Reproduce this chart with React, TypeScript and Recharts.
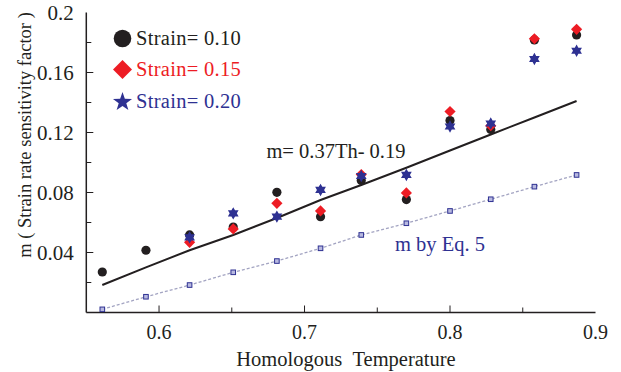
import React from 'react';
import {
  ComposedChart,
  Line,
  Scatter,
  XAxis,
  YAxis,
  Legend,
  ReferenceDot,
} from 'recharts';

// Homologous temperature (x)
const temps = [0.561, 0.591, 0.621, 0.651, 0.681, 0.711, 0.739, 0.77, 0.8, 0.828, 0.858, 0.887];
// Strain rate sensitivity factor m per strain
const strain10 = [0.027, 0.0415, 0.0517, 0.057, 0.0801, 0.0639, 0.088, 0.0753, 0.128, 0.122, 0.1817, 0.185];
const strain15 = [null, null, 0.0468, 0.0557, 0.0728, 0.0677, 0.092, 0.0797, 0.134, 0.1245, 0.1825, 0.1888];
const strain20 = [null, null, 0.0501, 0.0661, 0.0639, 0.0817, 0.091, 0.0917, 0.124, 0.126, 0.169, 0.1745];
// Fitted line m = 0.37Th - 0.19
const fitLine = [0.0183, 0.0301, 0.0415, 0.0517, 0.063, 0.075, 0.085, 0.0965, 0.108, 0.1187, 0.13, 0.141];
// m by Eq. 5
const eq5Line = [0.0021, 0.0105, 0.0183, 0.0268, 0.0343, 0.0428, 0.0517, 0.0595, 0.0677, 0.0755, 0.0839, 0.0917];

const xMajorTicks = [0.6, 0.7, 0.8, 0.9];
const xMinorTicks = [0.65, 0.75, 0.85];
const xTickLabels = ['0.6', '0.7', '0.8', '0.9'];
const yMajorTicks = [0.04, 0.08, 0.12, 0.16, 0.2];
const yMinorTicks = [0.02, 0.06, 0.1, 0.14, 0.18];
const yTickLabels = ['0.04', '0.08', '0.12', '0.16', '0.2'];

const seriesNames = ['Strain= 0.10', 'Strain= 0.15', 'Strain= 0.20'];
const fitLabel = 'm= 0.37Th- 0.19';
const eq5Label = 'm by Eq. 5';
const xAxisTitle = 'Homologous\u00a0\u00a0Temperature';
const yAxisTitle = 'm ( Strain rate sensitivity factor )';

const BLACK = '#231f20';
const RED = '#ed1c24';
const BLUE = '#2e3192';
const FONT = "'Liberation Serif', 'Times New Roman', serif";

const rows = temps.map((t, i) => ({
  t,
  s10: strain10[i],
  s15: strain15[i],
  s20: strain20[i],
  fit: fitLine[i],
  eq5: eq5Line[i],
}));

const s10Data = rows.filter((r) => r.s10 != null);
const s15Data = rows.filter((r) => r.s15 != null);
const s20Data = rows.filter((r) => r.s20 != null);

const near = (a: number, b: number) => Math.abs(a - b) < 1e-6;

const XTick = (props: any) => {
  const { x, y, payload } = props;
  const v = payload.value;
  const majorIdx = xMajorTicks.findIndex((m) => near(m, v));
  const isMajor = majorIdx >= 0;
  const showLine = !near(v, 0.9);
  return (
    <g>
      {showLine && (
        <line x1={x} x2={x} y1={y} y2={y - (isMajor ? 7 : 5)} stroke={BLACK} strokeWidth={1} />
      )}
      {isMajor && (
        <text x={x} y={y + 26} textAnchor="middle" fill={BLACK} fontSize={20} fontFamily={FONT}>
          {xTickLabels[majorIdx]}
        </text>
      )}
    </g>
  );
};

const YTick = (props: any) => {
  const { x, y, payload } = props;
  const v = payload.value;
  const majorIdx = yMajorTicks.findIndex((m) => near(m, v));
  const isMajor = majorIdx >= 0;
  const showLine = !near(v, 0.2);
  return (
    <g>
      {showLine && (
        <line x1={x} x2={x + (isMajor ? 7 : 5)} y1={y} y2={y} stroke={BLACK} strokeWidth={1} />
      )}
      {isMajor && (
        <text x={x - 12.5} y={y + 7.5} textAnchor="end" fill={BLACK} fontSize={21} fontFamily={FONT}>
          {yTickLabels[majorIdx]}
        </text>
      )}
    </g>
  );
};

const circleShape = (props: any) => {
  const { cx, cy } = props;
  return <circle cx={cx} cy={cy} r={4.6} fill={BLACK} />;
};

const diamondShape = (props: any) => {
  const { cx, cy } = props;
  const r = 5.6;
  return (
    <path d={`M${cx},${cy - r}L${cx + r},${cy}L${cx},${cy + r}L${cx - r},${cy}Z`} fill={RED} />
  );
};

const hexagramPath = (cx: number, cy: number, R: number) => {
  const pts: string[] = [];
  const inner = R / Math.sqrt(3);
  for (let i = 0; i < 12; i++) {
    const ang = (Math.PI / 6) * i - Math.PI / 2;
    const rad = i % 2 === 0 ? R : inner;
    pts.push(`${cx + rad * Math.cos(ang)},${cy + rad * Math.sin(ang)}`);
  }
  return 'M' + pts.join('L') + 'Z';
};

const starShape = (props: any) => {
  const { cx, cy } = props;
  return <path d={hexagramPath(cx, cy, 6.2)} fill={BLUE} />;
};

const fivePointStar = (cx: number, cy: number, R: number, r: number) => {
  const pts: string[] = [];
  for (let i = 0; i < 10; i++) {
    const ang = (Math.PI / 5) * i - Math.PI / 2;
    const rad = i % 2 === 0 ? R : r;
    pts.push(`${cx + rad * Math.cos(ang)},${cy + rad * Math.sin(ang)}`);
  }
  return 'M' + pts.join('L') + 'Z';
};

const squareDot = (props: any) => {
  const { cx, cy, index } = props;
  if (cx == null || cy == null) return <g key={`sq-${index}`} />;
  return (
    <rect
      key={`sq-${index}`}
      x={cx - 2.3}
      y={cy - 2.3}
      width={4.6}
      height={4.6}
      fill="#b8b9e0"
      stroke={BLUE}
      strokeWidth={1}
    />
  );
};

const legendColors = [BLACK, RED, BLUE];

const LegendContent = () => (
  <div style={{ fontFamily: FONT, fontSize: 20.5 }}>
    {seriesNames.map((name, i) => (
      <div key={name} style={{ height: 31.5, display: 'flex', alignItems: 'center' }}>
        <svg width={21} height={21} style={{ display: 'block' }}>
          {i === 0 && <circle cx={10.5} cy={10.5} r={8.8} fill={BLACK} />}
          {i === 1 && <path d="M10.5,1L20,10.5L10.5,20L1,10.5Z" fill={RED} />}
          {i === 2 && <path d={fivePointStar(10.5, 11, 10, 4)} fill={BLUE} />}
        </svg>
        <span style={{ marginLeft: 3, color: legendColors[i], whiteSpace: 'nowrap', letterSpacing: 0.3 }}>
          {name}
        </span>
      </div>
    ))}
  </div>
);

const XTitle = () => (
  <text x={346} y={366} textAnchor="middle" fill={BLACK} fontSize={20.5} fontFamily={FONT}>
    {xAxisTitle}
  </text>
);

const YTitle = () => (
  <text
    x={25}
    y={135}
    transform="rotate(-90, 25, 135)"
    textAnchor="middle"
    dominantBaseline="central"
    fill={BLACK}
    fontSize={18.5}
    fontFamily={FONT}
  >
    {yAxisTitle}
  </text>
);

export default function App() {
  return (
    <div style={{ position: 'absolute', left: 0, top: 0, width: 621, height: 372, background: '#fff' }}>
      <ComposedChart
        width={621}
        height={372}
        data={rows}
        margin={{ top: 12.5, right: 25.5, bottom: 0, left: 0 }}
      >
        <XAxis
          type="number"
          dataKey="t"
          domain={[0.55, 0.9]}
          ticks={[...xMajorTicks, ...xMinorTicks].sort((a, b) => a - b)}
          interval={0}
          height={59.5}
          tickSize={0}
          tickMargin={0}
          tickLine={false}
          axisLine={{ stroke: BLACK, strokeWidth: 1.5 }}
          tick={XTick}
          allowDataOverflow
          label={{ content: XTitle }}
        />
        <YAxis
          type="number"
          domain={[0, 0.2]}
          ticks={[...yMajorTicks, ...yMinorTicks].sort((a, b) => a - b)}
          interval={0}
          width={86.3}
          tickSize={0}
          tickMargin={0}
          tickLine={false}
          axisLine={{ stroke: BLACK, strokeWidth: 1.5 }}
          tick={YTick}
          allowDataOverflow
          label={{ content: YTitle }}
        />
        <Legend
          layout="vertical"
          align="center"
          verticalAlign="middle"
          wrapperStyle={{ top: 22.25, left: 112, width: 220 }}
          content={LegendContent}
        />
        <Line
          type="linear"
          dataKey="eq5"
          stroke="#a3a4c2"
          strokeWidth={1.3}
          strokeDasharray="3 2"
          dot={squareDot}
          activeDot={false}
          isAnimationActive={false}
          legendType="none"
        />
        <Line
          type="linear"
          dataKey="fit"
          stroke={BLACK}
          strokeWidth={2}
          dot={false}
          activeDot={false}
          isAnimationActive={false}
          legendType="none"
        />
        <Scatter name={seriesNames[0]} data={s10Data} dataKey="s10" shape={circleShape} isAnimationActive={false} />
        <Scatter name={seriesNames[1]} data={s15Data} dataKey="s15" shape={diamondShape} isAnimationActive={false} />
        <Scatter name={seriesNames[2]} data={s20Data} dataKey="s20" shape={starShape} isAnimationActive={false} />
        <ReferenceDot
          x={0.7216}
          y={0.1077}
          r={1}
          fill="none"
          stroke="none"
          label={{ value: fitLabel, position: 'center', fill: BLACK, fontSize: 20.5, fontFamily: FONT }}
        />
        <ReferenceDot
          x={0.7931}
          y={0.0457}
          r={1}
          fill="none"
          stroke="none"
          label={{ value: eq5Label, position: 'center', fill: BLUE, fontSize: 20.5, fontFamily: FONT }}
        />
      </ComposedChart>
    </div>
  );
}
